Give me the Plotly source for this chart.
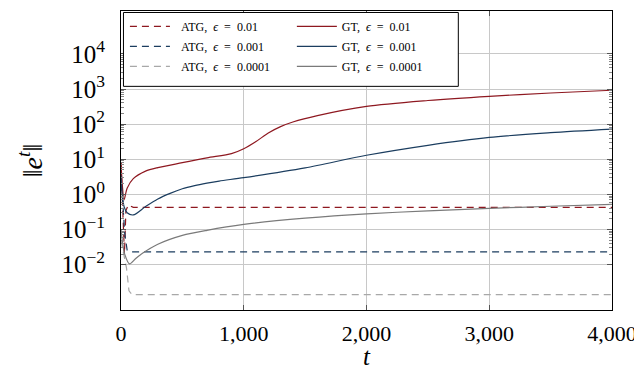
import plotly.graph_objects as go

# ---- data ----
t_gt1 = [0, 10, 25, 50, 100, 200, 300, 500, 700, 900, 1000, 1100, 1200, 1300, 1400, 1600, 2000, 2500, 3000, 3500, 4000]
gt_01 = [8, 2.0, 0.7, 1.5, 2.8, 4.6, 5.8, 8.0, 11, 14.5, 20, 32, 56, 85, 115, 175, 320, 470, 620, 770, 920]

t_gt2 = [0, 10, 25, 50, 100, 200, 300, 400, 500, 600, 700, 800, 1000, 1500, 2000, 2500, 3000, 3500, 4000]
gt_001 = [3.5, 1.0, 0.45, 0.3, 0.26, 0.45, 0.74, 1.07, 1.45, 1.78, 2.09, 2.4, 3.0, 5.7, 13, 25, 42, 57, 72]

t_gt3 = [0, 10, 30, 70, 120, 175, 300, 500, 700, 1000, 1500, 2000, 2500, 3000, 3500, 4000]
gt_0001 = [0.1, 0.05, 0.02, 0.0105, 0.015, 0.021, 0.038, 0.068, 0.095, 0.14, 0.21, 0.28, 0.34, 0.40, 0.46, 0.52]

t_atg1 = [0, 8, 16, 28, 40, 60, 100, 4000]
atg_01 = [8, 1.0, 0.1, 0.02, 0.35, 0.5, 0.43, 0.43]

t_atg2 = [0, 15, 30, 50, 80, 4000]
atg_001 = [2, 0.6, 0.08, 0.026, 0.023, 0.023]

t_atg3 = [0, 20, 45, 65, 90, 4000]
atg_0001 = [0.05, 0.02, 0.008, 0.0018, 0.0014, 0.0014]

x_ticks = [0, 1000, 2000, 3000, 4000]
y_exps = [-2, -1, 0, 1, 2, 3, 4]

RED = "#8e1820"
BLUE = "#1b3d5f"
GRAY = "#7a7a7a"
LGRAY = "#a8a8a8"
FONT = "Liberation Serif"
DASH = "7px,5px"
SP = "&nbsp;"

fig = go.Figure()

def add(t, v, name, color, dash, legend, width=1.2, shape="linear"):
    fig.add_trace(go.Scatter(
        x=t, y=v, mode="lines", name=name, legend=legend, legendgroup=name,
        line=dict(color=color, width=width, dash=dash, shape=shape,
                  smoothing=0.8 if shape == "spline" else None),
    ))

def lbl(kind, eps, lead=""):
    return f"{lead}{kind},{SP}{SP}<i>ϵ</i>{SP}{SP}={SP}{SP}{eps}"

add(t_atg1, atg_01, lbl("ATG", "0.01", SP * 2), RED, DASH, "legend")
add(t_atg2, atg_001, lbl("ATG", "0.001", SP * 2), BLUE, DASH, "legend")
add(t_atg3, atg_0001, lbl("ATG", "0.0001", SP * 2), LGRAY, DASH, "legend")
add(t_gt1, gt_01, lbl("GT", "0.01"), RED, "solid", "legend2", shape="spline")
add(t_gt2, gt_001, lbl("GT", "0.001"), BLUE, "solid", "legend2", shape="spline")
add(t_gt3, gt_0001, lbl("GT", "0.0001"), GRAY, "solid", "legend2", shape="spline")

minor_vals = [k * 10 ** d for d in range(-2, 4) for k in range(2, 10)]

legend_common = dict(
    font=dict(family=FONT, size=12, color="black"),
    bgcolor="rgba(0,0,0,0)", borderwidth=0,
    yanchor="top", xanchor="left", y=0.997,
    tracegroupgap=1, itemwidth=40,
)

# the page body has an 8px margin; the figure is sized/placed to compensate
fig.update_layout(
    width=634, height=362,
    margin=dict(l=112.5, r=30.3, t=2.5, b=60, autoexpand=False),
    paper_bgcolor="white", plot_bgcolor="white",
    font=dict(family=FONT, color="black"),
    showlegend=True,
    legend=dict(x=0.008, **legend_common),
    legend2=dict(x=0.348, **legend_common),
    xaxis=dict(
        range=[0, 4000], tickmode="array", tickvals=x_ticks, tickformat=",",
        ticks="inside", ticklen=5, tickcolor="#555", tickwidth=0.8,
        showline=True, linecolor="black", linewidth=1, mirror="allticks",
        showgrid=True, gridcolor="#c8c8c8", gridwidth=1, zeroline=False,
        tickfont=dict(family=FONT, size=22), ticklabelstandoff=4, automargin=False,
        ticklabeloverflow="allow",
        title=dict(text="<i>t</i>", font=dict(family=FONT, size=25), standoff=0),
    ),
    yaxis=dict(
        type="log", range=[-3.29, 5.22], tickmode="array",
        tickvals=[10 ** e for e in y_exps],
        ticktext=["10<sup>%s</sup>" % (str(e).replace("-", "−")) for e in y_exps],
        ticks="inside", ticklen=5, tickcolor="#555", tickwidth=0.8,
        minor=dict(tickmode="array", tickvals=minor_vals, ticks="inside",
                   ticklen=3, tickcolor="#888", tickwidth=0.6, showgrid=False),
        showline=True, linecolor="black", linewidth=1, mirror="allticks",
        showgrid=True, gridcolor="#c8c8c8", gridwidth=1, zeroline=False,
        tickfont=dict(family=FONT, size=25), ticklabelstandoff=10, automargin=False,
        title=dict(text="‖<i>e</i><sup><i>t</i></sup>‖", font=dict(family=FONT, size=28), standoff=10),
    ),
    shapes=[dict(type="rect", xref="paper", yref="paper",
                 x0=0.005, x1=0.687, y0=0.748, y1=0.995,
                 line=dict(color="black", width=1), fillcolor="white", layer="above")],
)

fig.write_html("out.html")
